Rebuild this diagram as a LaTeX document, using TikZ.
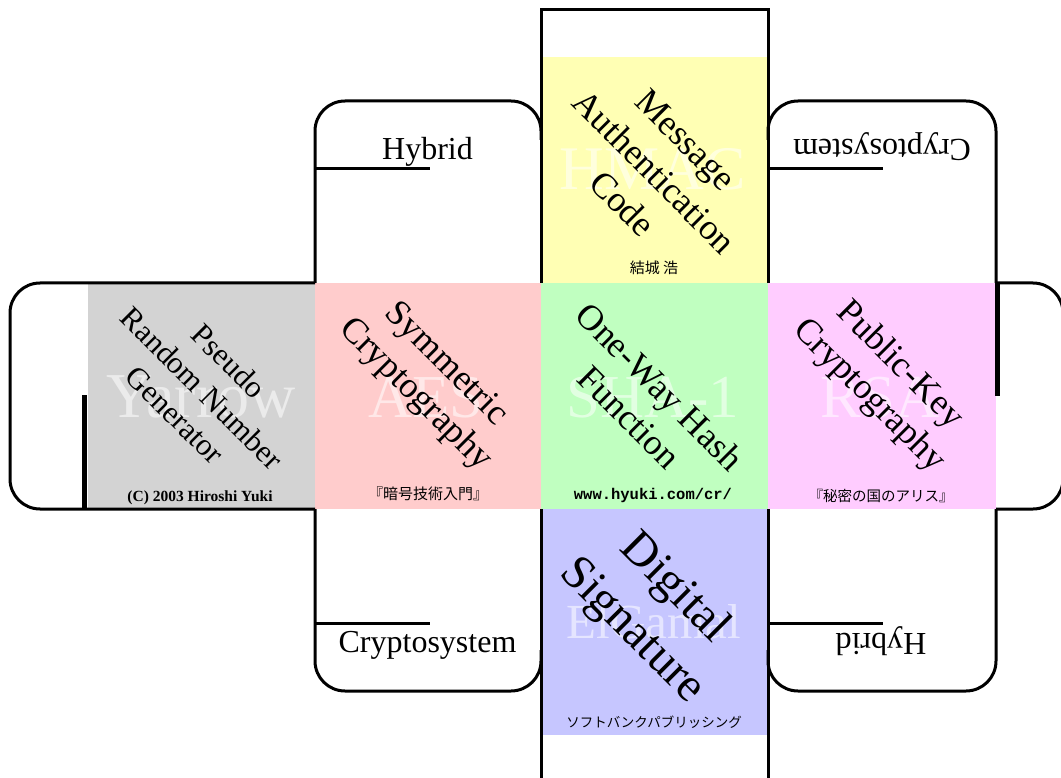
\documentclass[tikz,border=0pt]{standalone}
\usepackage{fontspec}
\setmainfont{Liberation Serif}
\newfontfamily\cjkfont{Noto Sans CJK JP}
\newfontfamily\monofont{Liberation Mono}
\definecolor{facegray}{HTML}{D3D3D3}
\definecolor{facepink}{HTML}{FFCCCC}
\definecolor{facegreen}{HTML}{C0FFC0}
\definecolor{facemag}{HTML}{FFCCFF}
\definecolor{faceyellow}{HTML}{FFFFB4}
\definecolor{faceblue}{HTML}{C6C6FF}
\tikzset{
  outline/.style={line width=3pt},
  thickbar/.style={line width=5pt},
  flaprule/.style={line width=3pt},
  diagtext/.style={rotate=-45, align=center, inner sep=0pt},
  wmark/.style={text=white, text opacity=0.55, anchor=base, inner sep=0pt},
  smalltext/.style={anchor=center, inner sep=0pt},
  flaptext/.style={anchor=base, inner sep=0pt, font=\fontsize{32}{38}\selectfont},
}
\begin{document}
\begin{tikzpicture}[x=1pt,y=-1pt]
\useasboundingbox (0,0) rectangle (1061,778);
\fill[white] (0,0) rectangle (1061,778);
% faces
\fill[facegray]   (88,283)  rectangle (315,509);
\fill[facepink]   (315,283) rectangle (541,509);
\fill[facegreen]  (541,283) rectangle (768,509);
\fill[facemag]    (768,283) rectangle (996,509);
\fill[faceyellow] (541,57)  rectangle (768,283);
\fill[faceblue]   (541,509) rectangle (768,735);
% watermarks
\node[wmark, font=\fontsize{64}{70}\selectfont] (wmYarrow) at (201,417) {Yarrow};
\node[wmark, font=\fontsize{61}{70}\selectfont] (wmAES) at (426,417) {AES};
\node[wmark, font=\fontsize{61}{70}\selectfont] (wmSHA) at (653,417) {SHA-1};
\node[wmark, font=\fontsize{61}{70}\selectfont] (wmRSA) at (880,417) {RSA};
\node[wmark, font=\fontsize{62}{70}\selectfont] (wmHMAC) at (653,190) {HMAC};
\node[wmark, font=\fontsize{49}{60}\selectfont] (wmElGamal) at (654,638) {ElGamal};
% diagonal titles
\node[diagtext, font=\fontsize{31}{38}\selectfont] (tPRNG) at (202,388) {Pseudo\\Random Number\\Generator};
\node[diagtext, font=\fontsize{36}{43}\selectfont] (tSym) at (430,380) {Symmetric\\Cryptography};
\node[diagtext, font=\fontsize{36}{43}\selectfont] (tHash) at (645,402) {One-Way Hash\\Function};
\node[diagtext, font=\fontsize{36}{43}\selectfont] (tPub) at (884,381) {Public-Key\\Cryptography};
\node[diagtext, font=\fontsize{36}{45}\selectfont] (tMAC) at (654,172) {Message\\Authentication\\Code};
\node[diagtext, font=\fontsize{48}{60}\selectfont] (tSig) at (653,610) {Digital\\Signature};
% small texts
\node[anchor=base, inner sep=0pt, font=\bfseries\fontsize{15.5}{18}\selectfont] (tCopy) at (200,501) {(C) 2003 Hiroshi Yuki};
\node[smalltext, font=\cjkfont\fontsize{15}{18}\selectfont] (tBook1) at (428,494) {『暗号技術入門』};
\node[anchor=base, inner sep=0pt, font=\monofont\bfseries\fontsize{15.5}{18}\selectfont] (tURL) at (653,499) {www.hyuki.com/cr/};
\node[smalltext, font=\cjkfont\fontsize{14.5}{18}\selectfont] (tBook2) at (881,496) {『秘密の国のアリス』};
\node[smalltext, font=\cjkfont\fontsize{15}{18}\selectfont] (tAuthor) at (654,268) {結城 浩};
\node[smalltext, font=\cjkfont\fontsize{13.5}{18}\selectfont] (tPub2) at (654,722) {ソフトバンクパブリッシング};
% flap texts
\node[flaptext] (fHybrid1) at (427.5,160) {Hybrid};
\node[flaptext] (fCrypto1) at (427.5,652) {Cryptosystem};
\node[flaptext, rotate=180] (fCrypto2) at (882,140) {Cryptosystem};
\node[flaptext, rotate=180] (fHybrid2) at (881,633) {Hybrid};
% outlines
\draw[outline, rounded corners=30pt] (315,283) -- (10,283) -- (10,509) -- (315,509);
\draw[outline, rounded corners=30pt] (315,283) -- (315,101) -- (541,101) -- (541,140);
\draw[outline] (541,283) -- (541,10) -- (768,10) -- (768,283);
\draw[outline, rounded corners=30pt] (768,140) -- (768,101) -- (996,101) -- (996,283);
\draw[outline, rounded corners=30pt] (996,283) -- (1063,283) -- (1063,509) -- (996,509);
\draw[outline, rounded corners=30pt] (315,509) -- (315,691) -- (541,691) -- (541,650);
\draw[outline, rounded corners=30pt] (768,650) -- (768,691) -- (996,691) -- (996,509);
\draw[outline] (541,509) -- (541,790);
\draw[outline] (768,509) -- (768,790);
% flap rules
\draw[flaprule] (315,169) -- (430,169);
\draw[flaprule] (768,169) -- (883,169);
\draw[flaprule] (315,623) -- (430,623);
\draw[flaprule] (768,623) -- (883,623);
% thick bars
\draw[thickbar] (84.5,395) -- (84.5,510);
\draw[thickbar] (997,282) -- (997,396);
\end{tikzpicture}
\end{document}
